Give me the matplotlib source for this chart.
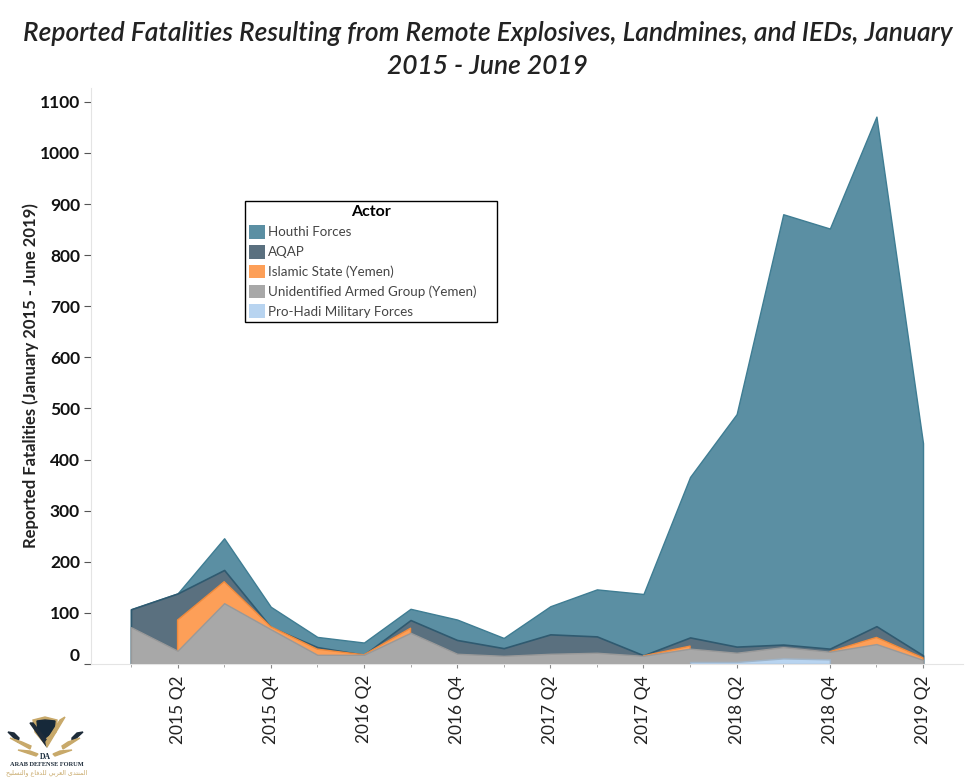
# Yemen fatalities area chart
import numpy as np
import matplotlib.pyplot as plt

plt.rcParams['font.family'] = 'Lato'

quarters = ["2015 Q1", "2015 Q2", "2015 Q3", "2015 Q4", "2016 Q1", "2016 Q2", "2016 Q3", "2016 Q4", "2017 Q1",
            "2017 Q2", "2017 Q3", "2017 Q4", "2018 Q1", "2018 Q2", "2018 Q3", "2018 Q4", "2019 Q1", "2019 Q2"]
n = np.nan

houthi = [107, 138, 246, 112, 53, 42, 108, 87, 51, 113, 146, 137, 366, 489, 880, 852, 1071, 432]
aqap = [107, 138, 184, 72, 33, 18, 86, 47, 31, 58, 54, 17, 52, 34, 38, 30, 74, 17]
islamic_state = [n, 86, 161, 73, 29, 18, 70, n, n, n, n, 16, 35, n, n, 24, 52, 12]
unidentified = [72, 26, 119, 68, 18, 18, 61, 20, 16, 20, 22, 16, 30, 22, 33, 24, 39, 8]
pro_hadi = [n, n, n, n, n, n, n, n, n, n, n, n, 4, 4, 11, 9, n, n]

x = np.arange(len(quarters))

plt.figure(figsize=(9.75, 7.8), dpi=100)
plt.axes([91/975, 1 - 664/780, (963 - 91)/975, (664 - 88)/780])

plt.fill_between(x, houthi, color='#5b8fa3', edgecolor='#3f7d93', lw=1, label="Houthi Forces")
plt.fill_between(x, aqap, color='#5a707f', edgecolor='#2f5a70', lw=1.2, label="AQAP")
plt.fill_between(x, islamic_state, color='#fd9f58', edgecolor='#f08a3c', lw=1, label="Islamic State (Yemen)")
plt.fill_between(x, unidentified, color='#a8a8a8', edgecolor='#999999', lw=1, label="Unidentified Armed Group (Yemen)     ")
plt.fill_between(x, pro_hadi, color='#b8d4f0', edgecolor='#9fb4c8', lw=1, label="Pro-Hadi Military Forces")

plt.xlim(-0.858, 17.858)
plt.ylim(0, 1127)
plt.xticks(x[1::2], quarters[1::2], rotation=90, fontsize=12.5)
plt.yticks(np.arange(0, 1200, 100), fontsize=12.5, fontweight='bold')
plt.tick_params(axis='x', length=3, color='#888888', pad=5, labelcolor='#222222')
plt.tick_params(axis='y', length=5, color='#555555', pad=3, labelcolor='#111111')
plt.gca().set_xticks(x[0::2], minor=True)
plt.tick_params(axis='x', which='minor', length=2, color='#999999')
plt.gca().get_yticklabels()[0].set_verticalalignment('bottom')

for side in ['top', 'right']:
    plt.gca().spines[side].set_visible(False)
plt.gca().spines['bottom'].set_color('#e4e4e4')
plt.gca().spines['left'].set_color('#e4e4e4')

plt.figtext(31/975, 1 - 376/780, "Reported Fatalities (January 2015 - June 2019)", rotation=90, ha='center', va='center',
            fontsize=12, fontweight='bold', color='#222222')

leg = plt.legend(title="Actor", loc='upper left', bbox_to_anchor=(245/975, 1 - 201/780), bbox_transform=plt.gcf().transFigure,
                 fontsize=9.6, fancybox=False, framealpha=1, edgecolor='black', borderaxespad=0, labelspacing=0.46,
                 handlelength=1.2, handleheight=1.2, handletextpad=0.2, borderpad=0.3,
                 title_fontproperties={'weight': 'bold', 'size': 11.5})
leg.get_frame().set_linewidth(1)
for t in leg.get_texts():
    t.set_color('#444444')
for h in leg.legend_handles:
    h.set_edgecolor('none')

plt.figtext(0.5, 1 - 34/780, "Reported Fatalities Resulting from Remote Explosives, Landmines, and IEDs, January",
            ha='center', va='center', fontsize=19, fontstyle='italic', fontweight='semibold', color='#222222')
plt.figtext(0.5, 1 - 66/780, "2015 - June 2019",
            ha='center', va='center', fontsize=19, fontstyle='italic', fontweight='semibold', color='#222222')

# the forum logo in the corner
logo = plt.axes([0, 0, 110/975, 80/780])
logo.set_xlim(0, 110)
logo.set_ylim(80, 0)
logo.axis('off')
logo.fill([33, 45, 57, 56, 45, 35], [20, 17, 20, 32, 44, 32], color='#c8a96a')
logo.fill([37, 45, 55, 54, 45, 38], [21, 20, 21, 31, 38, 31], color='#16293a')
logo.fill([30, 33, 48, 47], [23, 23, 42, 47], color='#1e2c3a')
logo.fill([65, 60, 46, 47], [17, 20, 42, 47], color='#c8a96a')
logo.fill([8, 14, 19, 18], [32, 33, 38, 42], color='#1e2c3a')
logo.fill([83, 77, 72, 72], [32, 33, 38, 42], color='#1e2c3a')
logo.fill([10, 22, 31, 30], [38, 42, 46, 49], color='#c8a96a')
logo.fill([80, 68, 62, 63], [38, 42, 46, 49], color='#c8a96a')
logo.fill([18, 30, 38, 36], [50, 51, 54, 56], color='#c8a96a')
logo.fill([72, 60, 53, 55], [50, 51, 54, 56], color='#c8a96a')
logo.text(45, 57, "DA", fontsize=5.5, fontweight='bold', family='Liberation Serif', ha='center', va='center', color='#16293a')
logo.text(47, 65, "ARAB DEFENSE FORUM", fontsize=4.6, fontweight='bold', family='Liberation Serif', ha='center', va='center', color='#1e2c3a')
# no shaping in matplotlib, so the letters are in their joined forms and turned round
arabic = "\ufe8d\ufedf\ufee4\ufee8\ufe98\ufeaa\ufeef \ufe8d\ufedf\ufecc\ufeae\ufe91\ufef2 \ufedf\ufee0\ufeaa\ufed3\ufe8e\ufec9 \ufeed\ufe8d\ufedf\ufe98\ufeb4\ufee0\ufef4\ufea2"
logo.text(47, 73, arabic[::-1], fontsize=4.6, family='DejaVu Sans', ha='center', va='center', color='#c8a96a')

plt.savefig("out.png", dpi=100)
